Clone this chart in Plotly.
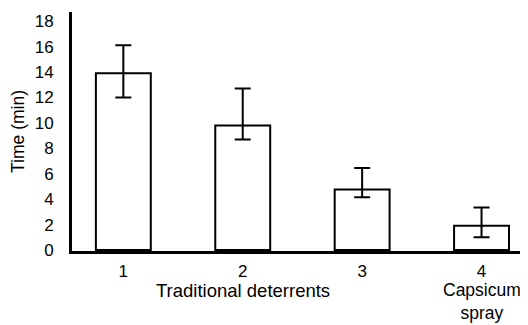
import plotly.graph_objects as go

categories = ["1", "2", "3", "4"]
tick_labels = ["1", "2", "3", "4"]
group_labels = {"2": "Traditional deterrents", "4": "Capsicum<br>spray"}
times = [13.9, 9.8, 4.75, 1.9]
err_plus = [2.2, 2.9, 1.7, 1.45]
err_minus = [1.9, 1.1, 0.6, 0.9]
y_ticks = [0, 2, 4, 6, 8, 10, 12, 14, 16, 18]

font_family = "Liberation Sans, Arial, sans-serif"

fig = go.Figure(
    go.Bar(
        x=categories,
        y=times,
        marker=dict(color="white", line=dict(color="black", width=2)),
        error_y=dict(
            type="data",
            symmetric=False,
            array=err_plus,
            arrayminus=err_minus,
            color="black",
            thickness=2,
            width=8,
        ),
    )
)

# The page body has an 8px default margin, so the figure is sized to fit the window.
fig.update_layout(
    width=520,
    height=317,
    margin=dict(l=64, r=3, t=4, b=74),
    paper_bgcolor="white",
    plot_bgcolor="white",
    bargap=0.54,
    showlegend=False,
    font=dict(family=font_family, size=17, color="black"),
)

for cat, label in group_labels.items():
    fig.add_annotation(
        x=categories.index(cat),
        xref="x",
        y=-0.115,
        yref="paper",
        yanchor="top",
        text=label,
        showarrow=False,
        font=dict(size=18.5 if cat == "2" else 17.5),
    )

fig.update_xaxes(
    type="category",
    range=[-0.43, 3.364],
    tickvals=categories,
    ticktext=tick_labels,
    showline=True,
    linecolor="black",
    linewidth=3,
    showgrid=False,
    ticks="",
    ticklabelstandoff=3,
    tickfont=dict(size=17),
    automargin=False,
)

fig.update_yaxes(
    range=[-0.08, 18.72],
    tickvals=y_ticks,
    showline=True,
    linecolor="black",
    linewidth=3,
    showgrid=False,
    zeroline=False,
    ticks="",
    ticklabelstandoff=12,
    tickfont=dict(size=17),
    automargin=False,
    title=dict(text="Time (min)", font=dict(size=17.5), standoff=6),
)

fig.write_html("out.html")
